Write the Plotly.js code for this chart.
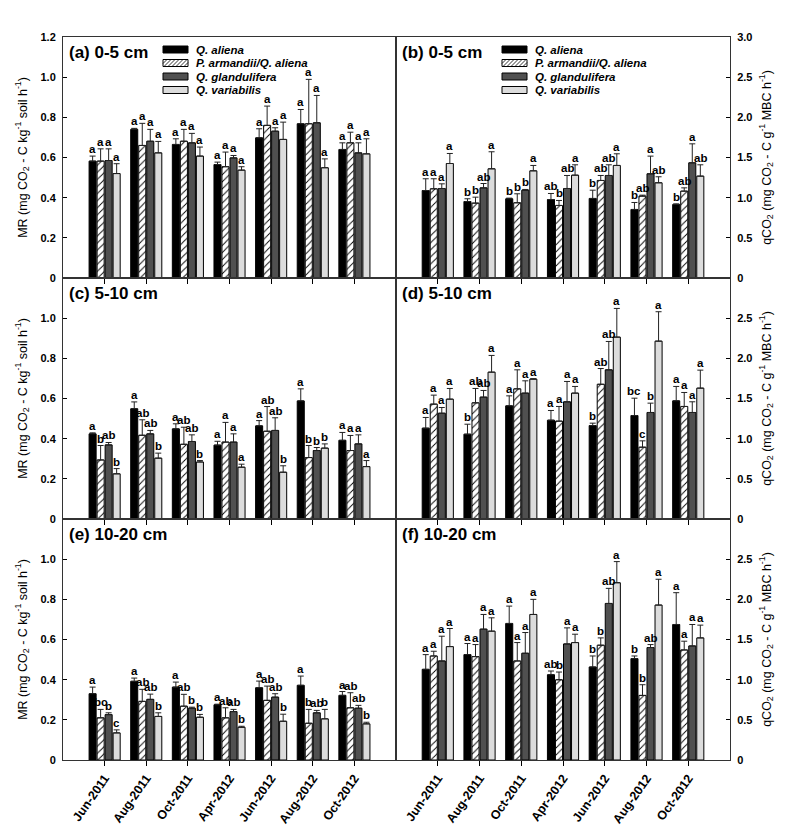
<!DOCTYPE html>
<html><head><meta charset="utf-8">
<script src="https://cdn.plot.ly/plotly-3.0.1.min.js"></script>
<style>html,body{margin:0;padding:0;background:#fff}#chart{width:787px;height:826px}</style>
</head><body><div id="chart"></div>
<script>
const months = ['Jun-2011','Aug-2011','Oct-2011','Apr-2012','Jun-2012','Aug-2012','Oct-2012'];
const species = ['Q. aliena','P. armandii/Q. aliena','Q. glandulifera','Q. variabilis'];

// (a) MR 0-5 cm  — rows: Q. aliena, P. armandii/Q. aliena, Q. glandulifera, Q. variabilis
const meanA = [[0.582,0.740,0.665,0.565,0.698,0.768,0.640],
               [0.582,0.660,0.681,0.554,0.760,0.768,0.673],
               [0.585,0.681,0.673,0.598,0.731,0.773,0.623],
               [0.520,0.623,0.607,0.537,0.690,0.549,0.618]];
const seA   = [[0.025,0.005,0.028,0.012,0.045,0.071,0.033],
               [0.061,0.110,0.059,0.073,0.096,0.221,0.053],
               [0.058,0.059,0.047,0.012,0.017,0.136,0.050],
               [0.049,0.057,0.045,0.017,0.086,0.044,0.075]];
const letA  = [['a','a','a','a','a','a','a'],['a','a','a','a','a','a','a'],
               ['a','a','a','a','a','a','a'],['a','a','a','a','a','a','a']];

// (b) qCO2 0-5 cm
const meanB = [[1.089,0.952,0.986,0.977,0.990,0.853,0.915],
               [1.110,0.932,0.936,0.903,1.214,1.019,1.081],
               [1.114,1.122,1.093,1.114,1.276,1.297,1.434],
               [1.425,1.359,1.334,1.280,1.401,1.185,1.268]];
const seB   = [[0.146,0.034,0.008,0.075,0.103,0.087,0.008],
               [0.125,0.074,0.112,0.062,0.062,0.012,0.041],
               [0.058,0.054,0.009,0.162,0.133,0.220,0.236],
               [0.125,0.212,0.067,0.129,0.145,0.075,0.141]];
const letB  = [['a','b','b','ab','b','b','b'],['a','b','b','b','ab','ab','ab'],
               ['a','ab','b','ab','ab','a','a'],['a','a','a','a','a','ab','ab']];

// (c) MR 5-10 cm
const meanC = [[0.424,0.549,0.449,0.368,0.464,0.588,0.392],
               [0.294,0.417,0.372,0.383,0.437,0.306,0.341],
               [0.369,0.424,0.386,0.383,0.441,0.341,0.374],
               [0.225,0.303,0.284,0.258,0.233,0.353,0.261]];
const seC   = [[0.005,0.034,0.025,0.019,0.026,0.060,0.039],
               [0.072,0.077,0.085,0.098,0.123,0.060,0.075],
               [0.012,0.017,0.033,0.041,0.063,0.015,0.045],
               [0.026,0.025,0.007,0.015,0.032,0.021,0.030]];
const letC  = [['a','a','a','a','a','a','a'],['b','ab','ab','a','ab','b','a'],
               ['ab','ab','ab','a','ab','b','a'],['b','b','b','a','b','b','a']];

// (d) qCO2 5-10 cm
const meanD = [[1.131,1.056,1.409,1.230,1.163,1.288,1.471],
               [1.430,1.446,1.620,1.218,1.677,0.894,1.401],
               [1.317,1.517,1.567,1.459,1.857,1.326,1.326],
               [1.492,1.828,1.741,1.567,2.264,2.214,1.629]];
const seD   = [[0.133,0.124,0.124,0.121,0.030,0.216,0.179],
               [0.112,0.179,0.237,0.183,0.196,0.079,0.174],
               [0.071,0.083,0.153,0.253,0.353,0.116,0.133],
               [0.133,0.208,0.005,0.083,0.357,0.366,0.224]];
const letD  = [['a','b','a','a','b','bc','a'],['a','ab','a','a','ab','c','a'],
               ['a','ab','a','a','ab','b','a'],['a','a','a','a','a','a','a']];

// (e) MR 10-20 cm
const meanE = [[0.330,0.392,0.363,0.275,0.360,0.372,0.322],
               [0.210,0.292,0.268,0.210,0.297,0.183,0.260],
               [0.226,0.302,0.258,0.241,0.313,0.235,0.258],
               [0.135,0.217,0.213,0.163,0.193,0.205,0.180]];
const seE   = [[0.033,0.016,0.025,0.003,0.033,0.046,0.019],
               [0.042,0.060,0.059,0.050,0.071,0.069,0.075],
               [0.009,0.026,0.005,0.011,0.017,0.012,0.014],
               [0.015,0.018,0.014,0.005,0.035,0.047,0.008]];
const letE  = [['a','a','a','a','a','a','a'],['bc','ab','ab','ab','ab','b','ab'],
               ['b','ab','b','ab','ab','ab','ab'],['c','b','b','b','b','b','b']];

// (f) qCO2 10-20 cm
const meanF = [[1.129,1.312,1.700,1.062,1.158,1.262,1.687],
               [1.295,1.287,1.233,0.999,1.429,0.804,1.370],
               [1.233,1.629,1.329,1.445,1.949,1.400,1.420],
               [1.412,1.604,1.812,1.462,2.207,1.929,1.520]];
const seF   = [[0.183,0.138,0.216,0.046,0.137,0.033,0.396],
               [0.059,0.150,0.229,0.096,0.091,0.133,0.109],
               [0.308,0.183,0.258,0.200,0.188,0.037,0.267],
               [0.225,0.166,0.188,0.104,0.263,0.321,0.159]];
const letF  = [['a','a','a','ab','b','b','a'],['a','a','a','b','b','b','a'],
               ['a','a','a','a','ab','ab','a'],['a','a','a','a','a','a','a']];

const panelLabels = ['(a) 0-5 cm','(b) 0-5 cm','(c) 5-10 cm','(d) 5-10 cm','(e) 10-20 cm','(f) 10-20 cm'];
const mrTicks = [0,0.2,0.4,0.6,0.8,1.0,1.2];
const mrTickText = ['0','0.2','0.4','0.6','0.8','1.0','1.2'];
const qTicks = [0,0.5,1.0,1.5,2.0,2.5,3.0];
const qTickText = ['0','0.5','1.0','1.5','2.0','2.5','3.0'];

const FONT = 'Liberation Sans, Arial, sans-serif';
const BARGAP = 0.23, GROUPGAP = 0.12;
const xs = months.map((_, i) => i + 1);
const colors = ['#000000','#ffffff','#505050','#dcdcdc'];

// page geometry (pixels) used to place the hand-drawn legends
const W = 787, H = 826, ML = 63, MR = 57, MT = 37, MB = 66;
const PW = W - ML - MR, PH = H - MT - MB;
const px = v => (v - ML) / PW;
const py = v => (H - MB - v) / PH;

const panels = [
  {mean: meanA, se: seA, let: letA, xa: 'x',  ya: 'y',  legendX: 163},
  {mean: meanB, se: seB, let: letB, xa: 'x2', ya: 'y2', legendX: 502},
  {mean: meanC, se: seC, let: letC, xa: 'x3', ya: 'y3'},
  {mean: meanD, se: seD, let: letD, xa: 'x4', ya: 'y4'},
  {mean: meanE, se: seE, let: letE, xa: 'x5', ya: 'y5'},
  {mean: meanF, se: seF, let: letF, xa: 'x6', ya: 'y6'}
];

const traces = [];
const annotations = [];
const shapes = [];
panels.forEach((p, pi) => {
  species.forEach((sp, j) => {
    const marker = {color: colors[j], line: {color: '#000', width: 1}};
    if (j === 1) marker.pattern = {shape: '/', fgcolor: '#000', bgcolor: '#fff', size: 5, solidity: 0.18};
    traces.push({
      type: 'bar', x: xs, y: p.mean[j], name: sp,
      xaxis: p.xa, yaxis: p.ya, marker: marker, showlegend: false,
      error_y: {type: 'data', symmetric: false, array: p.se[j], arrayminus: p.se[j].map(() => 0),
                color: '#222', thickness: 1, width: 3},
      hoverinfo: 'skip'
    });
    p.mean[j].forEach((v, i) => {
      annotations.push({
        xref: p.xa, yref: p.ya, x: xs[i] + (j - 1.5) * (1 - BARGAP) / 4,
        y: v + p.se[j][i], text: p.let[j][i], showarrow: false,
        yanchor: 'bottom', xanchor: 'center', yshift: -1,
        font: {family: FONT, size: 11.5, weight: 'bold', color: '#000'}
      });
    });
  });
  annotations.push({
    xref: p.xa + ' domain', yref: p.ya + ' domain', x: 0.012, y: 0.985,
    xanchor: 'left', yanchor: 'top', showarrow: false, text: panelLabels[pi],
    font: {family: FONT, size: 17, weight: 'bold', color: '#000'}
  });

  // legend (panels a and b)
  if (p.legendX) {
    const x0 = p.legendX, x1 = p.legendX + 25;
    species.forEach((sp, j) => {
      const cy = 49.5 + j * 13.5, y0 = cy - 3.5, y1 = cy + 3.5;
      shapes.push({type: 'rect', xref: 'paper', yref: 'paper', x0: px(x0), x1: px(x1), y0: py(y1), y1: py(y0),
        fillcolor: colors[j], line: {color: '#000', width: 1}, layer: 'above'});
      if (j === 1) {
        let d = '';
        const h = y1 - y0;
        for (let k = x0 - h; k < x1; k += 4) {
          let ax = k, ay = y1, bx = k + h, by = y0;
          if (ax < x0) { ay = y1 - (x0 - ax); ax = x0; }
          if (bx > x1) { by = y0 + (bx - x1); bx = x1; }
          if (bx <= ax) continue;
          d += 'M' + px(ax) + ',' + py(ay) + 'L' + px(bx) + ',' + py(by);
        }
        shapes.push({type: 'path', xref: 'paper', yref: 'paper', path: d, line: {color: '#000', width: 0.8}, layer: 'above'});
      }
      annotations.push({xref: 'paper', yref: 'paper', x: px(x1 + 6), y: py(cy), xanchor: 'left', yanchor: 'middle',
        showarrow: false, text: sp, font: {family: FONT, size: 11.5, weight: 'bold', style: 'italic', color: '#000'}});
    });
  }
});

const LEFT = [0, 0.4993], RIGHT = [0.4993, 1];
const ROWS = [[0.6667, 1], [0.3333, 0.6667], [0, 0.3333]];
const tickFont = {family: FONT, size: 11, weight: 'bold', color: '#000'};

function xaxis(dom, anchor, bottom) {
  return {domain: dom, anchor: anchor, range: [0, 8], tickvals: xs, ticktext: months,
    showticklabels: bottom, tickangle: -55, ticks: 'outside', ticklen: 5, tickcolor: '#000',
    showline: true, mirror: true, linecolor: '#333', linewidth: 1, showgrid: false, zeroline: false,
    tickfont: {family: FONT, size: 12.5, weight: 'bold', color: '#000'}, fixedrange: true};
}
function yaxis(dom, anchor, side, isMR, top) {
  const tv = isMR ? (top ? mrTicks : mrTicks.slice(0, 6)) : (top ? qTicks : qTicks.slice(0, 6));
  const tt = isMR ? (top ? mrTickText : mrTickText.slice(0, 6)) : (top ? qTickText : qTickText.slice(0, 6));
  return {domain: dom, anchor: anchor, side: side, range: isMR ? [0, 1.2] : [0, 3.0],
    tickvals: tv, ticktext: tt, ticks: 'inside', ticklen: 4, tickcolor: '#000',
    showline: true, mirror: true, linecolor: '#333', linewidth: 1, showgrid: false, zeroline: false,
    tickfont: tickFont, ticklabelstandoff: 4, fixedrange: true,
    title: {text: isMR ? 'MR (mg CO<sub>2</sub> - C kg<sup>-1</sup> soil h<sup>-1</sup>)'
                       : 'qCO<sub>2</sub> (mg CO<sub>2</sub> - C g<sup>-1</sup> MBC h<sup>-1</sup>)',
            font: {family: FONT, size: 12.5, color: '#000'}, standoff: 10}};
}

const layout = {
  width: W, height: H, margin: {l: ML, r: MR, t: MT, b: MB},
  paper_bgcolor: '#fff', plot_bgcolor: '#fff',
  barmode: 'group', bargap: BARGAP, bargroupgap: GROUPGAP, showlegend: false,
  font: {family: FONT, color: '#000'},
  xaxis: xaxis(LEFT, 'y', false), xaxis2: xaxis(RIGHT, 'y2', false),
  xaxis3: xaxis(LEFT, 'y3', false), xaxis4: xaxis(RIGHT, 'y4', false),
  xaxis5: xaxis(LEFT, 'y5', true), xaxis6: xaxis(RIGHT, 'y6', true),
  yaxis: yaxis(ROWS[0], 'x', 'left', true, true), yaxis2: yaxis(ROWS[0], 'x2', 'right', false, true),
  yaxis3: yaxis(ROWS[1], 'x3', 'left', true, false), yaxis4: yaxis(ROWS[1], 'x4', 'right', false, false),
  yaxis5: yaxis(ROWS[2], 'x5', 'left', true, false), yaxis6: yaxis(ROWS[2], 'x6', 'right', false, false),
  annotations: annotations, shapes: shapes,
  hovermode: false
};

Plotly.newPlot('chart', traces, layout, {displayModeBar: false, staticPlot: true});
</script>
</body></html>
